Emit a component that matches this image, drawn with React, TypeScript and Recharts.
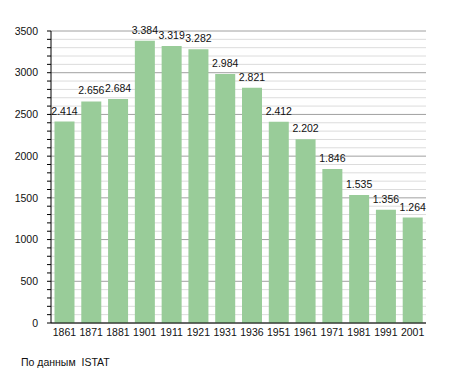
import { BarChart, Bar, XAxis, YAxis, CartesianGrid, LabelList } from "recharts";

const YEARS = ["1861", "1871", "1881", "1901", "1911", "1921", "1931", "1936", "1951", "1961", "1971", "1981", "1991", "2001"];
const POPULATION = [2414, 2656, 2684, 3384, 3319, 3282, 2984, 2821, 2412, 2202, 1846, 1535, 1356, 1264];
const Y_TICKS = [0, 100, 200, 300, 400, 500, 600, 700, 800, 900, 1000, 1100, 1200, 1300, 1400, 1500, 1600, 1700, 1800, 1900, 2000, 2100, 2200, 2300, 2400, 2500, 2600, 2700, 2800, 2900, 3000, 3100, 3200, 3300, 3400, 3500];
const SOURCE = "По данным  ISTAT";

const FONT = "'Liberation Sans', Arial, sans-serif";

const data = YEARS.map((year, i) => ({ year, pop: POPULATION[i] }));

// thousands separator as in the source: 2.414
const fmt = (v: any) => {
  const s = String(v);
  return s.length > 3 ? s.slice(0, s.length - 3) + "." + s.slice(-3) : s;
};

const gridLine = (props: any) => {
  const { x1, y1, x2, y2, index } = props;
  const major = index % 5 === 0;
  return (
    <line
      key={`g-${index}`}
      x1={x1}
      y1={y1}
      x2={x2}
      y2={y2}
      stroke={major ? "#a0a0a0" : "#dcdcdc"}
      strokeWidth={1}
    />
  );
};

const YTick = (props: any) => {
  const { x, y, payload } = props;
  if (payload.value % 500 !== 0) return null;
  return (
    <text x={x} y={y} dy="0.35em" textAnchor="end" fontSize={10.5} fill="#111" fontFamily={FONT}>
      {payload.value}
    </text>
  );
};

export default function App() {
  return (
    <div style={{ position: "absolute", left: 0, top: 0, width: 455, height: 373, background: "#fff" }}>
      <BarChart
        width={455}
        height={373}
        data={data}
        margin={{ top: 31, right: 29, left: 0, bottom: 30 }}
        barCategoryGap={3.5}
      >
        <CartesianGrid vertical={false} horizontal={gridLine} />
        <XAxis
          dataKey="year"
          height={20}
          tickLine={false}
          tickSize={0}
          tickMargin={6}
          axisLine={{ stroke: "#000" }}
          interval={0}
          tick={{ fontSize: 10.5, fill: "#111", fontFamily: FONT }}
        />
        <YAxis
          width={51}
          domain={[0, 3500]}
          ticks={Y_TICKS}
          interval={0}
          tickSize={4}
          tickMargin={9}
          tickLine={{ stroke: "#000" }}
          axisLine={{ stroke: "#000" }}
          tick={<YTick />}
        />
        <Bar dataKey="pop" fill="#99cc99" isAnimationActive={false}>
          <LabelList
            dataKey="pop"
            position="top"
            offset={7}
            formatter={fmt}
            style={{ fontSize: 10.5, fill: "#111", fontFamily: FONT }}
          />
        </Bar>
      </BarChart>
      <div
        style={{
          position: "absolute",
          left: 21,
          top: 356,
          fontSize: 10.5,
          fontFamily: FONT,
          color: "#111",
          whiteSpace: "pre",
        }}
      >
        {SOURCE}
      </div>
    </div>
  );
}
